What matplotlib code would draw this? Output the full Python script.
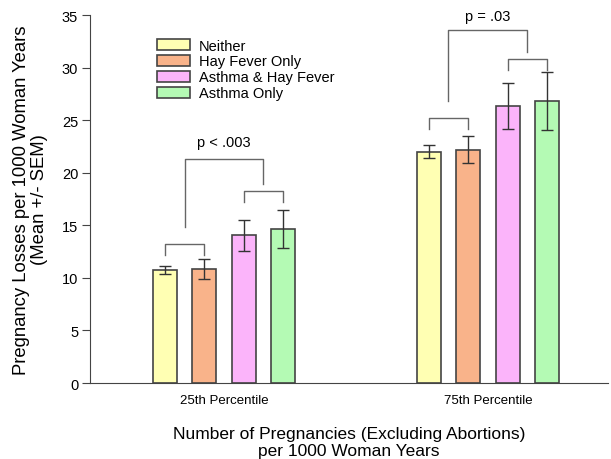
import numpy as np
import matplotlib
matplotlib.use("Agg")
import matplotlib.pyplot as plt

plt.rcParams["font.family"] = ["Liberation Sans", "DejaVu Sans"]

# data
groups = ["25th Percentile", "75th Percentile"]
series = ["Neither", "Hay Fever Only", "Asthma & Hay Fever", "Asthma Only"]
means = [
    [10.75, 22.0],   # Neither
    [10.85, 22.2],   # Hay Fever Only
    [14.05, 26.35],  # Asthma & Hay Fever
    [14.65, 26.8],   # Asthma Only
]
sems = [
    [0.38, 0.63],
    [0.92, 1.30],
    [1.45, 2.19],
    [1.84, 2.75],
]
colors = ["#FFFFB3", "#F9B38A", "#FBB4FA", "#B4FAB4"]
p_labels = ["p < .003", "p = .03"]
# bracket heights (small pair 1, small pair 2, large) per group
br_small1 = [13.2, 25.25]
br_small2 = [18.3, 30.8]
br_large = [21.3, 33.6]

fig = plt.figure(figsize=(6.11, 4.6), dpi=100)
ax = fig.add_axes([0.1473, 0.1652, 0.8477, 0.80])

x = np.arange(len(groups))
width = 0.091
step = 0.1496
offsets = (np.arange(4) - 1.5) * step

for i, name in enumerate(series):
    ax.bar(x + offsets[i], means[i], width, color=colors[i], edgecolor="#444444",
           linewidth=1.2, label=name, zorder=2)
    ax.errorbar(x + offsets[i], means[i], yerr=sems[i], fmt="none", ecolor="#333333",
                elinewidth=1.0, capsize=4.5, capthick=1.0, zorder=3)

lc = "#666666"
for g in range(len(groups)):
    xa, xb, xc, xd = x[g] + offsets
    # small brackets
    h1 = br_small1[g]
    ax.plot([xa, xa, xb, xb], [h1 - 1.05, h1, h1, h1 - 1.05], color=lc, lw=1.0)
    h2 = br_small2[g]
    ax.plot([xc, xc, xd, xd], [h2 - 1.05, h2, h2, h2 - 1.05], color=lc, lw=1.0)
    # large bracket
    m1 = (xa + xb) / 2
    m2 = (xc + xd) / 2
    h3 = br_large[g]
    ax.plot([m1, m1, m2, m2], [h1 + 1.6, h3, h3, h2 + 0.65], color=lc, lw=1.0)
    ax.text((m1 + m2) / 2, h3 + [1.0, 0.6][g], p_labels[g], ha="center", va="bottom",
            fontsize=10.5)

ax.set_xlim(-0.5076, 1.4545)
ax.set_ylim(0, 35)
ax.set_yticks(np.arange(0, 36, 5))
ax.set_xticks(x)
ax.set_xticklabels(groups, fontsize=9.5)
ax.tick_params(axis="x", length=0, pad=8)
ax.tick_params(axis="y", direction="out", length=6, pad=2.5, labelsize=10.5,
               color="#444444")
for s in ["top", "right"]:
    ax.spines[s].set_visible(False)
for s in ["left", "bottom"]:
    ax.spines[s].set_color("#444444")
ax.set_ylabel("Pregnancy Losses per 1000 Woman Years\n(Mean +/- SEM)", fontsize=13.3,
              linespacing=1.1, labelpad=10)
ax.set_xlabel("Number of Pregnancies (Excluding Abortions)\nper 1000 Woman Years",
              fontsize=12.5, labelpad=14, linespacing=1.2)

ax.legend(loc="upper left", bbox_to_anchor=(0.129, 0.936), frameon=False, fontsize=10.5,
          handlelength=2.26, handleheight=0.8, labelspacing=0.13, handletextpad=0.6,
          borderpad=0, borderaxespad=0)

fig.savefig("out.png", dpi=100)
